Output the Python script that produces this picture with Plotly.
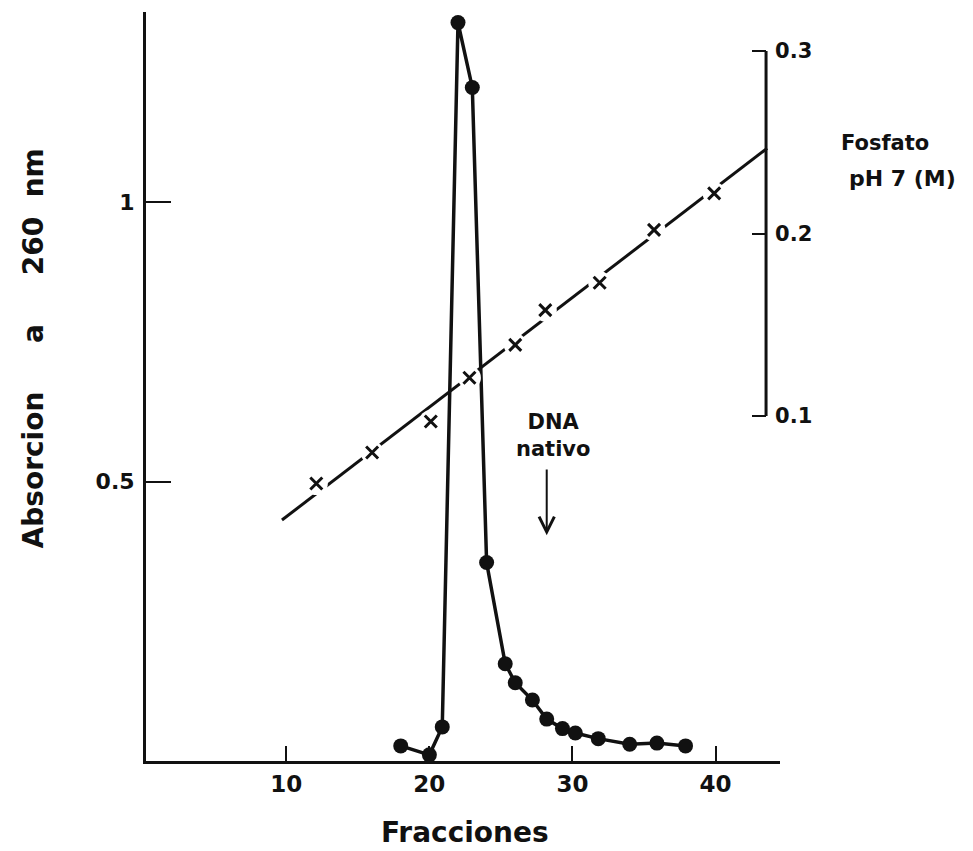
import plotly.graph_objects as go

# Absorbance at 260 nm (filled circles)
abs_frac = [18.0, 20.0, 20.9, 22.0, 23.0, 24.0, 25.3, 26.0, 27.2, 28.2, 29.3, 30.2, 31.8, 34.0, 35.9, 37.9]
abs_val = [0.027, 0.011, 0.061, 1.321, 1.205, 0.355, 0.174, 0.140, 0.109, 0.075, 0.058, 0.050, 0.040, 0.030, 0.032, 0.027]

# Phosphate gradient (x markers) and fitted gradient line
phos_frac = [12.1, 16.0, 20.1, 22.8, 26.0, 28.1, 31.9, 35.7, 39.9]
phos_val = [0.063, 0.080, 0.097, 0.121, 0.139, 0.158, 0.173, 0.202, 0.222]
grad_frac = [9.7, 43.6]
grad_val = [0.043, 0.2467]

x_ticks = [10, 20, 30, 40]
y_ticks = [0.5, 1]
y_ticktext = ["0.5", "1"]
y2_ticks = [0.1, 0.2, 0.3]
y2_ticktext = ["0.1", "0.2", "0.3"]

FONT = "DejaVu Sans"
BLK = "#111111"
NB = "\u00a0"

fig = go.Figure()

fig.add_trace(go.Scatter(x=grad_frac, y=grad_val, yaxis="y2", mode="lines",
                         line=dict(color=BLK, width=3), hoverinfo="skip", showlegend=False))
fig.add_trace(go.Scatter(x=phos_frac, y=phos_val, yaxis="y2", mode="markers",
                         marker=dict(symbol="circle", size=23, color="white", line=dict(width=0)),
                         hoverinfo="skip", showlegend=False))
fig.add_trace(go.Scatter(x=phos_frac, y=phos_val, yaxis="y2", mode="markers",
                         marker=dict(symbol="x-thin-open", size=12, color=BLK,
                                     line=dict(color=BLK, width=3)),
                         showlegend=False))
fig.add_trace(go.Scatter(x=abs_frac, y=abs_val, mode="lines+markers",
                         line=dict(color=BLK, width=3.5),
                         marker=dict(symbol="circle", size=15, color=BLK),
                         cliponaxis=False, showlegend=False))

# right axis line (from 0.1 to 0.3)
fig.add_shape(type="line", xref="paper", yref="y2", x0=0.978, x1=0.978,
              y0=y2_ticks[0], y1=y2_ticks[-1], line=dict(color=BLK, width=3))

fig.update_layout(
    width=973, height=851,
    margin=dict(l=146, r=193, t=12, b=90),
    paper_bgcolor="white", plot_bgcolor="white",
    font=dict(family=FONT, color=BLK, size=22),
    xaxis=dict(range=[0.2, 44.5], tickvals=x_ticks, ticks="inside", ticklen=15, tickwidth=2,
               tickcolor=BLK, showline=True, linecolor=BLK, linewidth=3, showgrid=False,
               zeroline=False, tickfont=dict(family=FONT, size=23, weight="bold"), ticklabelstandoff=0),
    yaxis=dict(range=[0, 1.34], tickvals=y_ticks, ticktext=y_ticktext, ticks="inside", ticklen=25,
               tickwidth=2, tickcolor=BLK, showline=True, linecolor=BLK, linewidth=3,
               showgrid=False, zeroline=False, tickfont=dict(family=FONT, size=22, weight="bold"),
               ticklabelstandoff=4),
    yaxis2=dict(range=[-0.08904, 0.3214], overlaying="y", side="right", anchor="free",
                position=0.978, tickvals=y2_ticks, ticktext=y2_ticktext, ticks="inside",
                ticklen=14, tickwidth=2, tickcolor=BLK, showline=False, showgrid=False,
                zeroline=False, tickfont=dict(family=FONT, size=21, weight="bold"),
                ticklabelstandoff=8),
)

fig.add_annotation(xref="paper", yref="paper", x=-0.178, y=0.551, textangle=-90,
                   text="Absorcion" + NB * 5 + "a" + NB * 5 + "260" + NB * 2 + "nm", showarrow=False,
                   font=dict(family=FONT, size=28, weight="bold"), xanchor="center", yanchor="middle")
fig.add_annotation(xref="paper", yref="paper", x=0.503, y=-0.0948, text="Fracciones",
                   showarrow=False, font=dict(family=FONT, size=28, weight="bold"),
                   xanchor="center", yanchor="middle")
fig.add_annotation(xref="paper", yref="paper", x=(885 - 146) / 634, y=(761 - 143) / 749,
                   text="Fosfato", showarrow=False, font=dict(family=FONT, size=21, weight="bold"),
                   xanchor="center", yanchor="middle")
fig.add_annotation(xref="paper", yref="paper", x=(903 - 146) / 634, y=(761 - 178) / 749,
                   text="pH 7 (M)", showarrow=False, font=dict(family=FONT, size=22, weight="bold"),
                   xanchor="center", yanchor="middle")
fig.add_annotation(x=28.65, y=0.583, text="DNA<br>nativo", showarrow=False,
                   font=dict(family=FONT, size=21, weight="bold"), xanchor="center", yanchor="middle")
fig.add_annotation(x=28.2, y=0.404, ax=28.2, ay=0.524, axref="x", ayref="y", text="",
                   showarrow=True, arrowhead=5, arrowsize=1.5, arrowwidth=2, arrowcolor=BLK)

fig.write_html("out.html")
